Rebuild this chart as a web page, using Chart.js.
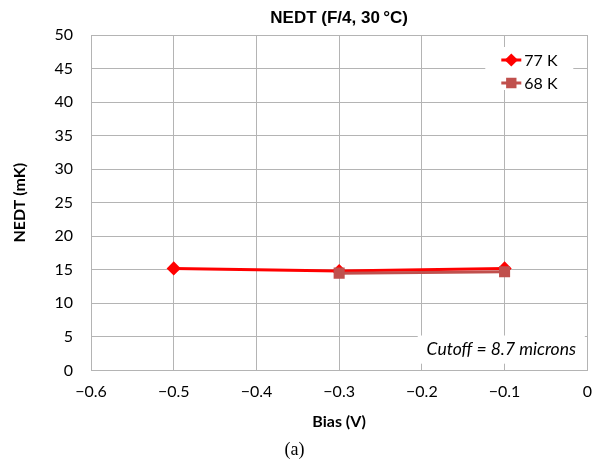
<!DOCTYPE html>
<html>
<head>
    <title>NEDT</title>
    <meta charset="utf-8">
    <style>
        body{ margin:0; background:#fff;}
        .wrapper{ width:596px; height:472px;}
    </style>
    <script src="https://cdn.jsdelivr.net/npm/chart.js@4.4.1/dist/chart.umd.min.js"></script>
</head>
<body>
    <div class="wrapper">
        <canvas id="myChart" width="596" height="472"></canvas>
    </div>

    <script>
        // data
        var bias77 = [-0.5, -0.3, -0.1];
        var nedt77 = [15.2, 14.8, 15.2];
        var bias68 = [-0.3, -0.1];
        var nedt68 = [14.5, 14.7];
        var xTicks = [-0.6, -0.5, -0.4, -0.3, -0.2, -0.1, 0];
        var yTicks = [0, 5, 10, 15, 20, 25, 30, 35, 40, 45, 50];

        var gridColor = '#b4b4b4';

        function toPoints(xs, ys){
            var pts = [];
            for (var i in xs) pts.push({x: xs[i], y: ys[i]});
            return pts;
        }

        function fmt(v){
            if (Math.abs(v) < 1e-9) return '0';
            var s = Number(v).toFixed(1);
            return s.replace('-', '\u2212');
        }

        // white boxes: legend in the top right, cutoff note in the bottom right
        const boxes = {
            id: 'boxes',
            beforeDatasetsDraw(chart){
                const ctx = chart.ctx;
                const a = chart.chartArea;
                const xs = chart.scales.x, ys = chart.scales.y;
                ctx.save();

                // note
                var nx1 = xs.getPixelForValue(-0.205), nx2 = xs.getPixelForValue(-0.003);
                var ny1 = ys.getPixelForValue(5.2), ny2 = ys.getPixelForValue(1.0);
                ctx.fillStyle = '#fff';
                ctx.fillRect(nx1, ny1, nx2 - nx1, ny2 - ny1);
                ctx.fillStyle = '#000';
                ctx.font = 'italic 17.5px Lato';
                ctx.textAlign = 'center';
                ctx.textBaseline = 'middle';
                ctx.fillText('Cutoff = 8.7 microns', (nx1 + nx2) / 2, (ny1 + ny2) / 2);

                // legend
                var lx = a.right - 102, ly = a.top + 12;
                ctx.fillStyle = '#fff';
                ctx.fillRect(lx, ly, 88, 43);
                var order = [0, 1];
                for (var k in order){
                    var ds = chart.data.datasets[order[k]];
                    var y = ly + 13 + k * 23;
                    ctx.strokeStyle = ds.borderColor;
                    ctx.lineWidth = 3;
                    ctx.beginPath();
                    ctx.moveTo(lx + 16, y);
                    ctx.lineTo(lx + 36, y);
                    ctx.stroke();
                    Chart.helpers.drawPoint(ctx, {
                        pointStyle: ds.pointStyle,
                        radius: ds.pointRadius - 0.5,
                        borderWidth: 1
                    }, lx + 26, y);
                    ctx.fillStyle = ds.pointBackgroundColor;
                    ctx.fill();
                    ctx.fillStyle = '#000';
                    ctx.font = '16px Lato';
                    ctx.textAlign = 'left';
                    ctx.fillText(ds.label, lx + 39, y + 1);
                }
                ctx.restore();
            }
        };

        const chartdata = {
            datasets: [{
                label: '77 K',
                data: toPoints(bias77, nedt77),
                borderColor: '#ff0000',
                backgroundColor: '#ff0000',
                pointBackgroundColor: '#ff0000',
                pointBorderColor: '#ff0000',
                pointStyle: 'rectRot',
                pointRadius: 5,
                borderWidth: 3,
                order: 1
            },
            {
                label: '68 K',
                data: toPoints(bias68, nedt68),
                borderColor: '#c0504d',
                backgroundColor: '#c0504d',
                pointBackgroundColor: '#c0504d',
                pointBorderColor: '#c0504d',
                pointStyle: 'rect',
                pointRadius: 5.7,
                borderWidth: 3,
                order: 0
            }]
        };

        const config = {
            type: 'line',
            data: chartdata,
            plugins: [boxes],
            options: {
                animation: false,
                responsive: false,
                layout: { padding: { left: 0, right: 7, top: 0, bottom: 0 } },
                plugins: {
                    legend: { display: false },
                    tooltip: { enabled: false },
                    title: {
                        display: true,
                        text: 'NEDT (F/4, 30\u2009\u00b0C)',
                        fullSize: false,
                        color: '#000',
                        font: { family: 'Liberation Sans', size: 17, weight: 'bold' },
                        padding: { top: 8, bottom: 6.6 }
                    },
                    subtitle: {
                        display: true,
                        position: 'bottom',
                        text: '(a)',
                        color: '#000',
                        font: { family: 'Liberation Serif', size: 18 },
                        padding: { top: 8, bottom: 11 }
                    }
                },
                scales: {
                    x: {
                        type: 'linear',
                        min: -0.6,
                        max: 0,
                        afterBuildTicks: function(s){ s.ticks = xTicks.map(function(v){ return {value: v}; }); },
                        afterFit: function(s){ s.height = 61; s.paddingRight = 0; },
                        grid: { color: gridColor, drawTicks: false },
                        border: { color: gridColor },
                        ticks: {
                            padding: 12,
                            color: '#000',
                            font: { family: 'Lato', size: 16 },
                            callback: fmt
                        },
                        title: {
                            display: true,
                            text: 'Bias (V)',
                            color: '#000',
                            font: { family: 'Lato', size: 16, weight: 'bold' },
                            padding: { top: 0, bottom: 0 }
                        }
                    },
                    y: {
                        min: 0,
                        max: 50,
                        afterBuildTicks: function(s){ s.ticks = yTicks.map(function(v){ return {value: v}; }); },
                        afterFit: function(s){ s.width = 91; },
                        grid: { color: gridColor, drawTicks: false },
                        border: { color: gridColor },
                        ticks: {
                            padding: 18,
                            color: '#000',
                            font: { family: 'Lato', size: 16 }
                        },
                        title: {
                            display: true,
                            text: 'NEDT (mK)',
                            color: '#000',
                            font: { family: 'Lato', size: 16, weight: 'bold' },
                            padding: { top: 10, bottom: 0 }
                        }
                    }
                }
            }
        };

        var myChart = new Chart(document.getElementById('myChart'), config);
    </script>
</body>
</html>
